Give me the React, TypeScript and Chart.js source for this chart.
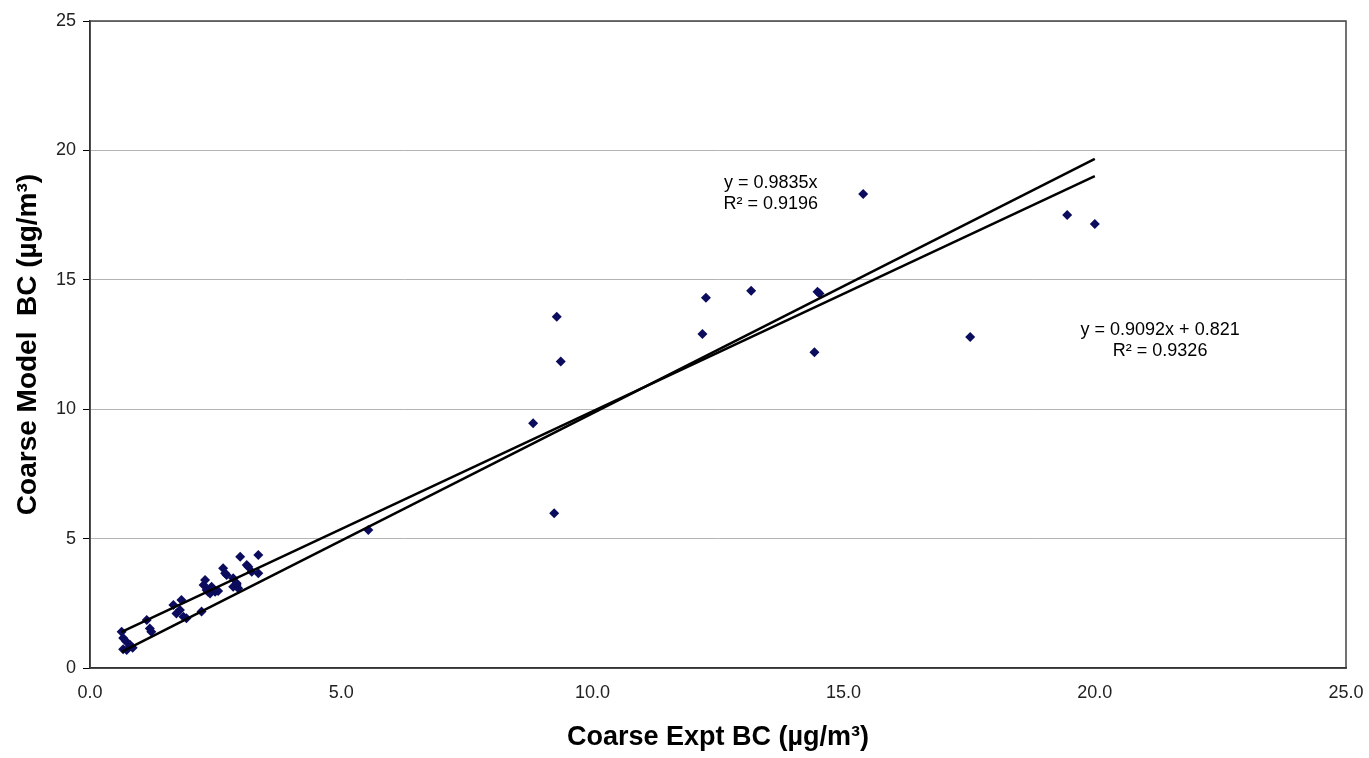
import React, { useEffect, useRef } from "react";
import { Chart, registerables } from "chart.js";

Chart.register(...registerables);

// Coarse Expt BC (x) vs Coarse Model BC (y), µg/m³
const exptBC: number[] = [
  0.63, 0.66, 0.72, 0.80, 0.66, 0.73, 0.85,
  1.13, 1.19, 1.22,
  1.66, 1.72, 1.79, 1.86, 1.92, 1.82,
  2.22, 2.26, 2.32, 2.42, 2.49, 2.39, 2.29, 2.45, 2.55, 2.35,
  2.65, 2.72, 2.69, 2.85, 2.92, 2.85, 2.95, 2.92, 2.99,
  3.12, 3.15, 3.22, 3.35, 3.35,
  5.54, 8.82, 9.24, 9.29, 9.37,
  12.19, 12.26, 13.16, 14.42, 14.48, 14.52,
  15.39, 17.52, 19.45, 20.0,
];
const modelBC: number[] = [
  1.40, 1.16, 1.02, 0.89, 0.72, 0.70, 0.78,
  1.85, 1.53, 1.40,
  2.43, 2.11, 2.24, 1.98, 1.92, 2.63,
  2.18, 3.21, 3.01, 3.14, 2.95, 2.88, 3.40, 3.05, 2.98, 2.95,
  3.85, 3.59, 3.66, 3.47, 3.21, 3.14, 3.08, 3.27, 4.30,
  3.98, 3.91, 3.72, 3.66, 4.37,
  5.33, 9.46, 5.98, 13.57, 11.84,
  12.91, 14.31, 14.58, 12.20, 14.54, 14.47,
  18.32, 12.79, 17.50, 17.16,
];

// Trendlines
const trendSlopes: number[] = [0.9835, 0.9092];
const trendIntercepts: number[] = [0, 0.821];
const trendLabels: string[][] = [
  ["y = 0.9835x", "R\u00B2 = 0.9196"],
  ["y = 0.9092x + 0.821", "R\u00B2 = 0.9326"],
];
// label anchor (data coords, centre of first line)
const labelAnchorX: number[] = [13.55, 21.3];
const labelAnchorY: number[] = [18.74, 13.06];

const xTicks: number[] = [0, 5, 10, 15, 20, 25];
const yTicks: number[] = [0, 5, 10, 15, 20, 25];

const FONT = "'Liberation Sans', Arial, Helvetica, sans-serif";

export default function App() {
  const ref = useRef<HTMLCanvasElement | null>(null);

  useEffect(() => {
    document.body.style.margin = "0";
    const canvas = ref.current;
    if (!canvas) return;

    const xMin = Math.min(...exptBC);
    const xMax = Math.max(...exptBC);
    const trendData = trendSlopes.map((m, i) => [
      { x: xMin, y: m * xMin + trendIntercepts[i] },
      { x: xMax, y: m * xMax + trendIntercepts[i] },
    ]);

    const frame = {
      id: "frame",
      beforeDatasetsDraw(chart: any) {
        const { ctx, chartArea: a } = chart;
        ctx.save();
        ctx.strokeStyle = "#444";
        ctx.lineWidth = 1.5;
        ctx.strokeRect(a.left, a.top, a.right - a.left, a.bottom - a.top);
        ctx.restore();
      },
    };

    const labels = {
      id: "trendLabels",
      afterDatasetsDraw(chart: any) {
        const { ctx, scales } = chart;
        ctx.save();
        ctx.fillStyle = "#000";
        ctx.font = `18px ${FONT}`;
        ctx.textAlign = "center";
        ctx.textBaseline = "middle";
        trendLabels.forEach((lines, i) => {
          const px = scales.x.getPixelForValue(labelAnchorX[i]);
          const py = scales.y.getPixelForValue(labelAnchorY[i]);
          lines.forEach((t, j) => ctx.fillText(t, px, py + j * 21));
        });
        ctx.restore();
      },
    };

    const chart = new Chart(canvas, {
      type: "scatter",
      data: {
        datasets: [
          {
            label: "trend1",
            data: trendData[0],
            showLine: true,
            borderColor: "#000",
            borderWidth: 2.5,
            pointRadius: 0,
            order: 0,
          },
          {
            label: "trend2",
            data: trendData[1],
            showLine: true,
            borderColor: "#000",
            borderWidth: 2.5,
            pointRadius: 0,
            order: 0,
          },
          {
            label: "data",
            data: exptBC.map((x, i) => ({ x, y: modelBC[i] })),
            pointStyle: "rectRot",
            pointRadius: 5,
            pointBackgroundColor: "#0c0c5e",
            pointBorderColor: "#0c0c5e",
            pointBorderWidth: 0,
            order: 1,
          },
        ],
      },
      options: {
        responsive: false,
        animation: false,
        layout: { padding: { top: 21, right: 23, left: 0, bottom: 0 } },
        plugins: {
          legend: { display: false },
          tooltip: { enabled: false },
        },
        scales: {
          x: {
            type: "linear",
            min: 0,
            max: 25,
            afterBuildTicks: (s: any) => {
              s.ticks = xTicks.map((v) => ({ value: v }));
            },
            afterFit: (s: any) => {
              s.height = 90;
              s.paddingLeft = 0;
              s.paddingRight = 0;
            },
            ticks: {
              callback: (v: any) => Number(v).toFixed(1),
              font: { family: FONT, size: 18 },
              color: "#222",
              padding: 14,
              maxRotation: 0,
            },
            grid: { display: false, drawTicks: false },
            border: { display: true, color: "#000", width: 1.5 },
            title: {
              display: true,
              text: "Coarse Expt BC (\u00B5g/m\u00B3)",
              font: { family: FONT, size: 27, weight: "bold" },
              color: "#000",
              padding: { top: 0, bottom: 4 },
            },
          },
          y: {
            type: "linear",
            min: 0,
            max: 25,
            afterBuildTicks: (s: any) => {
              s.ticks = yTicks.map((v) => ({ value: v }));
            },
            afterFit: (s: any) => {
              s.width = 90;
              s.paddingTop = 0;
              s.paddingBottom = 0;
            },
            ticks: {
              font: { family: FONT, size: 18 },
              color: "#222",
              padding: 7,
            },
            grid: {
              color: "#b4b4b4",
              lineWidth: 1,
              drawTicks: true,
              tickLength: 7,
              tickColor: "#000",
            },
            border: { display: true, color: "#000", width: 1.5 },
            title: {
              display: true,
              text: "Coarse Model  BC (\u00B5g/m\u00B3)",
              font: { family: FONT, size: 28, weight: "bold" },
              color: "#000",
              padding: { top: 11, bottom: 0 },
            },
          },
        },
      },
      plugins: [frame, labels],
    } as any);

    return () => chart.destroy();
  }, []);

  return (
    <div style={{ width: 1369, height: 758, background: "#fff" }}>
      <canvas ref={ref} width={1369} height={758} />
    </div>
  );
}
